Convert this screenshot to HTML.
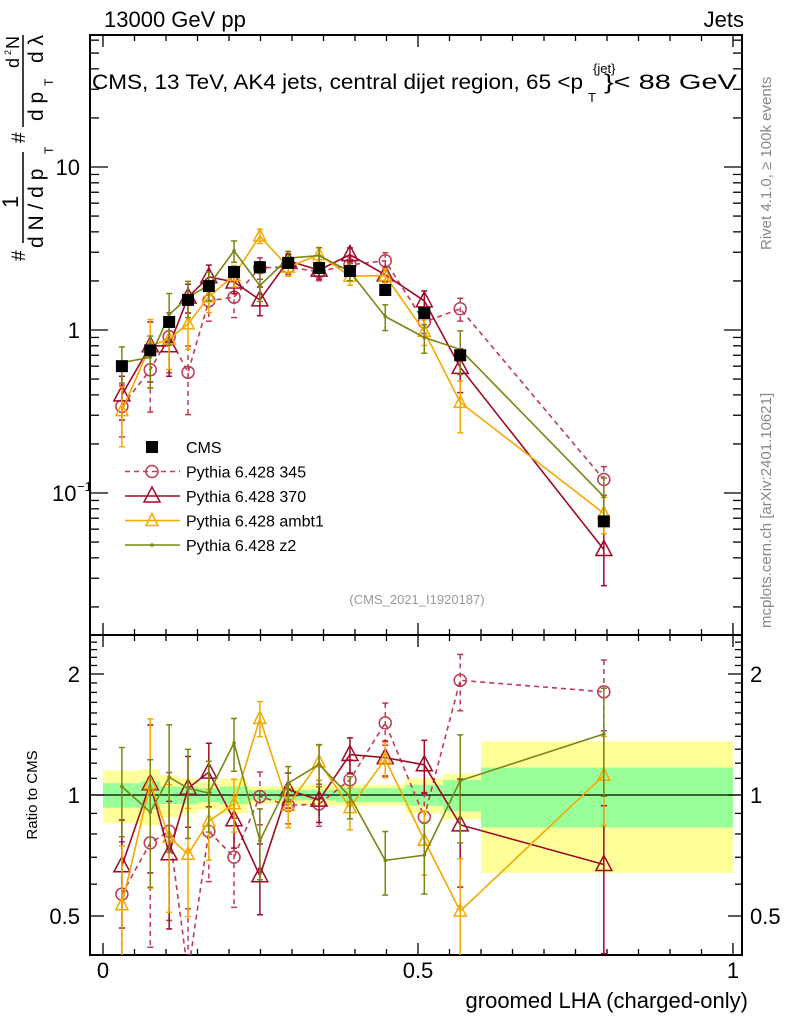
<!DOCTYPE html>
<html><head><meta charset="utf-8"><style>
html,body{margin:0;padding:0;background:#fff;width:786px;height:1024px;overflow:hidden;}
svg{display:block;font-family:"Liberation Sans",sans-serif;}
</style></head><body>
<svg id="c" width="786" height="1024" viewBox="0 0 786 1024" xmlns="http://www.w3.org/2000/svg"></svg>
<script>
const xs=[0.03,0.075,0.105,0.135,0.168,0.208,0.249,0.294,0.343,0.392,0.448,0.51,0.567,0.795];
const edges=[0,0.06,0.09,0.12,0.15,0.185,0.23,0.27,0.32,0.37,0.415,0.48,0.54,0.6,1.0];
const cms=[0.60,0.75,1.12,1.53,1.86,2.27,2.43,2.58,2.40,2.30,1.76,1.27,0.70,0.067];
const bandStat=[0.07,0.08,0.05,0.05,0.04,0.05,0.03,0.03,0.03,0.04,0.04,0.06,0.09,0.17];
const bandTot=[0.15,0.16,0.12,0.10,0.08,0.10,0.05,0.05,0.06,0.06,0.06,0.10,0.13,0.36];
const p345=[0.34,0.57,0.91,0.55,1.51,1.59,2.41,2.43,2.28,2.51,2.66,1.12,1.35,0.121];
const e345=[0.35,0.45,0.40,0.45,0.25,0.25,0.15,0.10,0.12,0.12,0.12,0.15,0.16,0.20];
const p370=[0.40,0.80,0.80,1.59,2.12,1.97,1.53,2.66,2.33,2.90,2.18,1.51,0.59,0.045];
const e370=[0.30,0.40,0.35,0.20,0.18,0.15,0.20,0.10,0.12,0.10,0.10,0.15,0.30,0.40];
const pamb=[0.32,0.80,0.88,1.09,1.60,2.16,3.77,2.43,2.90,2.14,2.16,0.98,0.36,0.075];
const eamb=[0.40,0.45,0.35,0.30,0.20,0.15,0.10,0.12,0.10,0.12,0.10,0.18,0.35,0.25];
const pz2=[0.63,0.68,1.24,1.59,1.88,3.06,1.87,2.76,2.86,2.28,1.21,0.90,0.76,0.095];
const ez2=[0.25,0.35,0.35,0.25,0.20,0.15,0.20,0.10,0.12,0.12,0.18,0.20,0.30,0.30];
const yTicks=["10","1"];

const S=document.getElementById('c'),NS="http://www.w3.org/2000/svg";
function el(t,a,p){const e=document.createElementNS(NS,t);for(const k in a)e.setAttribute(k,a[k]);(p||S).appendChild(e);return e;}
const L=90,R=742,T=35,M=635,B=955;
const X=v=>103+630*v;
const Y=v=>330-163*Math.log10(v);
const YR=v=>795-121*Math.log2(v);

const gB=el('g',{});


for(let i=0;i<xs.length;i++){
  const x0=X(edges[i]),x1=X(edges[i+1]);
  el('rect',{x:x0,y:YR(1+bandTot[i]),width:x1-x0,height:YR(1-bandTot[i])-YR(1+bandTot[i]),fill:'#ffff99'},gB);
}
for(let i=0;i<xs.length;i++){
  const x0=X(edges[i]),x1=X(edges[i+1]);
  el('rect',{x:x0,y:YR(1+bandStat[i]),width:x1-x0,height:YR(1-bandStat[i])-YR(1+bandStat[i]),fill:'#99ff99'},gB);
}
el('line',{x1:L,x2:R,y1:YR(1),y2:YR(1),stroke:'#000','stroke-width':1.3});

el('rect',{x:L,y:T,width:R-L,height:M-T,fill:'none',stroke:'#000','stroke-width':2});
el('rect',{x:L,y:M,width:R-L,height:B-M,fill:'none',stroke:'#000','stroke-width':2});
for(let v=0;v<=1.001;v+=0.05){
  const big=Math.abs(v*2-Math.round(v*2))<1e-6; const l=big?12:6;
  [[T,1],[M,1],[M,-1],[B,-1]].forEach(([y,d])=>el('line',{x1:X(v),x2:X(v),y1:y,y2:y+d*l,stroke:'#000','stroke-width':1.3}));
}
for(let e=-2;e<=1;e++)for(let m=1;m<10;m++){
  const v=m*Math.pow(10,e),y=Y(v); if(y<T||y>M)continue; const l=m==1?18:9;
  el('line',{x1:L,x2:L+l,y1:y,y2:y,stroke:'#000','stroke-width':1.3});
  el('line',{x1:R,x2:R-l,y1:y,y2:y,stroke:'#000','stroke-width':1.3});
}
for(let v=0.4;v<2.6;v+=0.1){const y=YR(v);if(y<M||y>B)continue;
  const big=[0.5,1,2].some(q=>Math.abs(q-v)<1e-6);const l=big?14:7;
  el('line',{x1:L,x2:L+l,y1:y,y2:y,stroke:'#000','stroke-width':1.3});
  el('line',{x1:R,x2:R-l,y1:y,y2:y,stroke:'#000','stroke-width':1.3});}

function txt(s,a,name){const t=el('text',a);t.textContent=s;return t;}
txt(yTicks[0],{x:80,y:Y(10)+8,'font-size':22,'text-anchor':'end'},'y-tick-10');
txt(yTicks[1],{x:80,y:Y(1)+8,'font-size':22,'text-anchor':'end'},'y-tick-1');
txt('10',{x:52,y:Y(0.1)+8,'font-size':22},'y-tick-0.1');
txt('−1',{x:77,y:Y(0.1)-2,'font-size':13},'y-tick-exp');
[['2',2],['1',1],['0.5',0.5]].forEach(([s,v])=>{
  txt(s,{x:80,y:YR(v)+8,'font-size':22,'text-anchor':'end'},'ratio-tick-left');
  txt(s,{x:750,y:YR(v)+8,'font-size':22},'ratio-tick-right');});
[['0',0],['0.5',0.5],['1',1]].forEach(([s,v])=>txt(s,{x:X(v),y:978,'font-size':22,'text-anchor':'middle'},'x-tick'));
txt('groomed LHA (charged-only)',{x:748,y:1008,'font-size':22,'text-anchor':'end'},'x-axis-title');
txt('Ratio to CMS',{x:0,y:0,'font-size':15,transform:'translate(37,795) rotate(-90)','text-anchor':'middle'},'ratio-axis-title');
txt('13000 GeV pp',{x:104,y:27,'font-size':22},'energy-label');
txt('Jets',{x:744,y:27,'font-size':22,'text-anchor':'end'},'process-label');
txt('CMS, 13 TeV, AK4 jets, central dijet region, 65 <p',{x:92,y:89,'font-size':21,textLength:491,lengthAdjust:'spacingAndGlyphs'},'plot-title');
txt('{jet}',{x:593,y:73,'font-size':13},'title-sup');
txt('T',{x:588,y:102,'font-size':13},'title-sub');
txt('}< 88 GeV',{x:0,y:0,'font-size':21,transform:'translate(604,89) scale(1.38,1)'},'title-end');
txt('Rivet 4.1.0, ≥ 100k events',{x:0,y:0,'font-size':15,fill:'#888',transform:'translate(771,250) rotate(-90)'},'rivet-label');
txt('mcplots.cern.ch [arXiv:2401.10621]',{x:0,y:0,'font-size':15,fill:'#888',transform:'translate(771,628) rotate(-90)'},'mcplots-label');
txt('(CMS_2021_I1920187)',{x:417,y:604,'font-size':13,fill:'#999','text-anchor':'middle'},'analysis-id');
const yt=el('g',{transform:'rotate(-90)'});

[['#',-261,25,19],['1',-208,18,22],['d N / d p',-248,43,21],['T',-154,53,12],['#',-143,25,19],
 ['d',-68,19,18],['2',-55,11,9],['N',-49,19,18],['d p',-121,43,21],['T',-86,53,12],['d λ',-63,43,21]].forEach(([s,x,y,f])=>{const t=el('text',{x:x,y:y,'font-size':f},yt);t.textContent=s;});
el('line',{x1:-243,x2:-152,y1:23,y2:23,stroke:'#000','stroke-width':1.5},yt);
el('line',{x1:-127,x2:-35,y1:23,y2:23,stroke:'#000','stroke-width':1.5},yt);

function marker(g,type,x,y,c){
  if(type=='sq')el('rect',{x:x-6,y:y-6,width:12,height:12,fill:'#000'},g);
  else if(type=='circ')el('circle',{cx:x,cy:y,r:6,fill:'none',stroke:c,'stroke-width':1.5},g);
  else if(type=='tri')el('polygon',{points:`${x},${y-9} ${x-8},${y+6} ${x+8},${y+6}`,fill:'none',stroke:c,'stroke-width':1.5},g);
  else if(type=='tris')el('polygon',{points:`${x},${y-7} ${x-6},${y+5} ${x+6},${y+5}`,fill:'none',stroke:c,'stroke-width':1.5},g);
  else el('circle',{cx:x,cy:y,r:1.8,fill:c},g);
}
function series(name,vals,errs,c,type,dash){
  const g=el('g',{});
  const da=dash?'5,4':'none';
  const gm=el('g',{'clip-path':'url(#cm)'},g),gr=el('g',{'clip-path':'url(#cr)'},g);
  let pm='',pr='';
  vals.forEach((v,i)=>{const x=X(xs[i]);const r=v/cms[i];
    pm+=(i?'L':'M')+x+','+Y(v);pr+=(i?'L':'M')+x+','+YR(r);
    const e=errs[i];
    [[gm,Y(v*(1+e)),Y(Math.max(v*(1-e),1e-4))],[gr,YR(r*(1+e)),YR(Math.max(r*(1-e),0.05))]].forEach(([gg,a,b])=>{
      el('line',{x1:x,x2:x,y1:a,y2:b,stroke:c,'stroke-width':1.5,'stroke-dasharray':da},gg);
      el('line',{x1:x-3,x2:x+3,y1:a,y2:a,stroke:c,'stroke-width':1.5},gg);
      el('line',{x1:x-3,x2:x+3,y1:b,y2:b,stroke:c,'stroke-width':1.5},gg);});
  });
  el('path',{d:pm,fill:'none',stroke:c,'stroke-width':1.6,'stroke-dasharray':da},gm);
  el('path',{d:pr,fill:'none',stroke:c,'stroke-width':1.6,'stroke-dasharray':da},gr);
  vals.forEach((v,i)=>{const x=X(xs[i]);marker(gm,type,x,Y(v),c);marker(gr,type,x,YR(v/cms[i]),c);});
}
const defs=el('defs',{});
const cm=el('clipPath',{id:'cm'},defs);el('rect',{x:L,y:T,width:R-L,height:M-T},cm);
const cr=el('clipPath',{id:'cr'},defs);el('rect',{x:L,y:M,width:R-L,height:B-M},cr);
series('series-pythia-345',p345,e345,'#bf3a55','circ',true);
series('series-pythia-370',p370,e370,'#9e0b26','tri',false);
series('series-pythia-ambt1',pamb,eamb,'#f5a800','tris',false);
series('series-pythia-z2',pz2,ez2,'#7c8512','dot',false);
const gc=el('g',{});
cms.forEach((v,i)=>marker(gc,'sq',X(xs[i]),Y(v),'#000'));

const lg=el('g',{});
const items=[['CMS','#000','sq',false],['Pythia 6.428 345','#bf3a55','circ',true],['Pythia 6.428 370','#9e0b26','tri',false],['Pythia 6.428 ambt1','#f5a800','tris',false],['Pythia 6.428 z2','#7c8512','dot',false]];
items.forEach((it,i)=>{const y=447+i*24.5;
  const ge=el('g',{},lg);
  if(i>0)el('line',{x1:125,x2:180,y1:y,y2:y,stroke:it[1],'stroke-width':1.6,'stroke-dasharray':it[3]?'5,4':'none'},ge);
  marker(ge,it[2],152,y,it[1]);
  const t=el('text',{x:186,y:y+6,'font-size':16},ge);t.textContent=it[0];});
</script>
</body></html>
